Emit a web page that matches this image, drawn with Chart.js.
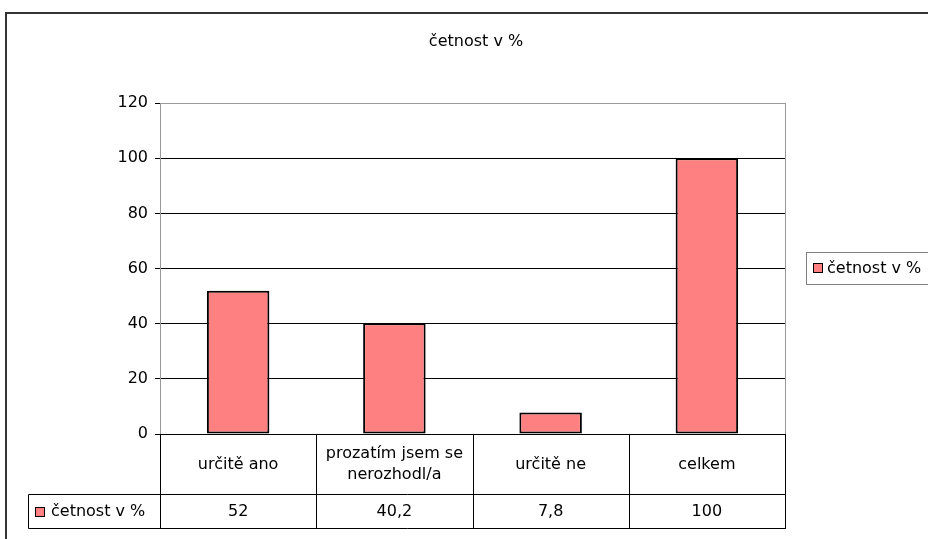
<!DOCTYPE html>
<html lang="cs">
<head>
<meta charset="utf-8">
<script src="https://cdn.jsdelivr.net/npm/chart.js"></script>
<style>
    body { margin: 0; background: #ffffff; }
    #wrap { width: 928px; height: 539px; }
</style>
</head>
<body>
<div id="wrap">
    <canvas id="barChart" width="928" height="539"></canvas>
</div>
<script>
    // data
    const seriesName = 'četnost v %';
    const categories = ['určitě ano', 'prozatím jsem se nerozhodl/a', 'určitě ne', 'celkem'];
    const categoryLines = [['určitě ano'], ['prozatím jsem se', 'nerozhodl/a'], ['určitě ne'], ['celkem']];
    const values = [52, 40.2, 7.8, 100];
    const yMin = 0;
    const yMax = 120;
    const yStep = 20;

    const FONT = '16px "DejaVu Sans"';
    const barFill = '#FF8080';

    function line(ctx, x1, y1, x2, y2) {
        ctx.beginPath();
        ctx.moveTo(x1, y1);
        ctx.lineTo(x2, y2);
        ctx.stroke();
    }

    function swatch(ctx, x, y) {
        ctx.fillStyle = barFill;
        ctx.fillRect(x, y, 10, 10);
        ctx.strokeStyle = '#000';
        ctx.lineWidth = 1;
        ctx.strokeRect(x + 0.5, y + 0.5, 9, 9);
    }

    // outer frame, plot border, legend box and data table (Excel style)
    const excelBits = {
        id: 'excelBits',
        beforeDraw(chart) {
            const ctx = chart.ctx;
            ctx.save();
            ctx.fillStyle = '#fff';
            ctx.fillRect(0, 0, chart.width, chart.height);
            ctx.strokeStyle = '#333';
            ctx.lineWidth = 2;
            ctx.strokeRect(6, 13, 1000, 1000);
            ctx.restore();
        },
        beforeDatasetsDraw(chart) {
            const { ctx, chartArea: a } = chart;
            ctx.save();
            ctx.strokeStyle = '#999';
            ctx.lineWidth = 1;
            ctx.strokeRect(Math.round(a.left) + 0.5, Math.round(a.top) + 0.5,
                Math.round(a.right - a.left), Math.round(a.bottom - a.top));
            ctx.restore();
        },
        afterDraw(chart) {
            const { ctx, chartArea: a } = chart;
            const xs = chart.scales.x;
            const n = categories.length;
            const w = (a.right - a.left) / n;
            const top = Math.round(a.bottom) + 0.5;
            const row1 = top + 60;
            const row2 = row1 + 34;
            const leftX = 28.5;

            ctx.save();
            ctx.strokeStyle = '#000';
            ctx.lineWidth = 1;
            line(ctx, a.left, top, a.right + 1, top);
            line(ctx, leftX, row1, a.right + 1, row1);
            line(ctx, leftX, row2, a.right + 1, row2);
            line(ctx, leftX, row1, leftX, row2);
            for (let i = 0; i <= n; i++) {
                const xb = Math.round(a.left + i * w) + 0.5;
                line(ctx, xb, top, xb, row2);
            }

            ctx.font = FONT;
            ctx.fillStyle = '#000';
            ctx.textAlign = 'center';
            ctx.textBaseline = 'middle';
            categoryLines.forEach((lines, i) => {
                const cx = xs.getPixelForValue(i);
                const mid = (top + row1) / 2;
                lines.forEach((t, k) => {
                    ctx.fillText(t, cx, mid + (k - (lines.length - 1) / 2) * 21);
                });
                ctx.fillText(String(values[i]).replace('.', ','), cx, (row1 + row2) / 2);
            });

            // series row header
            swatch(ctx, 35, Math.round((row1 + row2) / 2) - 5);
            ctx.fillStyle = '#000';
            ctx.textAlign = 'left';
            ctx.fillText(seriesName, 51, (row1 + row2) / 2);

            // legend on the right
            ctx.strokeStyle = '#808080';
            ctx.strokeRect(806.5, 252.5, 200, 32);
            swatch(ctx, 813, 263);
            ctx.fillStyle = '#000';
            ctx.fillText(seriesName, 827, 268.5);
            ctx.restore();
        }
    };

    const ctx = document.getElementById('barChart').getContext('2d');
    new Chart(ctx, {
        type: 'bar',
        data: {
            labels: categories,
            datasets: [{
                label: seriesName,
                data: values,
                backgroundColor: barFill,
                borderColor: '#000',
                borderWidth: 2,
                borderSkipped: false,
                barPercentage: 0.4,
                categoryPercentage: 1.0
            }]
        },
        options: {
            responsive: false,
            animation: false,
            layout: { padding: { left: 24, right: 0, top: 0, bottom: 105 } },
            plugins: {
                legend: { display: false },
                tooltip: { enabled: false },
                title: {
                    display: true,
                    text: seriesName,
                    color: '#000',
                    font: { family: 'DejaVu Sans', size: 16, weight: 'normal' },
                    padding: { top: 32, bottom: 52 }
                }
            },
            scales: {
                x: { display: false },
                y: {
                    min: yMin,
                    max: yMax,
                    afterFit(scale) { scale.width = 136; },
                    ticks: {
                        stepSize: yStep,
                        color: '#000',
                        padding: 7,
                        font: { family: 'DejaVu Sans', size: 16 }
                    },
                    grid: {
                        color: c => (c.tick && c.tick.value === yMax) ? '#999' : '#000',
                        tickLength: 5,
                        tickColor: '#000'
                    },
                    border: { color: '#666' }
                },
                // empty right axis only keeps room for the legend box
                yRight: {
                    position: 'right',
                    min: yMin,
                    max: yMax,
                    afterFit(scale) { scale.width = 143; },
                    ticks: { display: false },
                    grid: { display: false },
                    border: { display: false }
                }
            }
        },
        plugins: [excelBits]
    });
</script>
</body>
</html>
